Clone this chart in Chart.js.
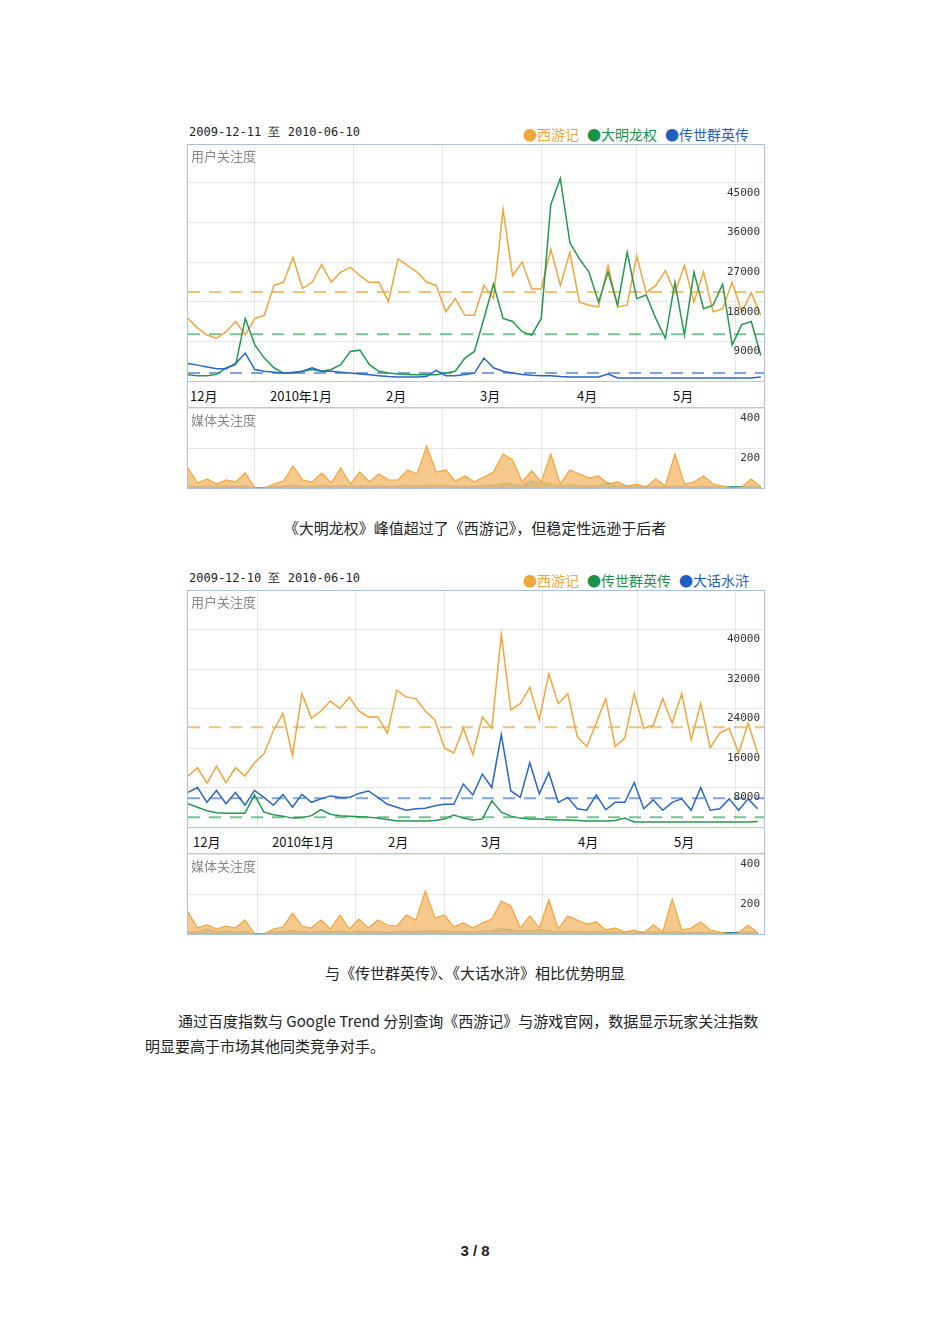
<!DOCTYPE html>
<html lang="zh">
<head>
<meta charset="UTF-8">
<title>百度指数对比</title>
<script src="https://cdn.jsdelivr.net/npm/chart.js"></script>
<style>
  body { margin: 0; width: 950px; height: 1344px; background: #fff; position: relative; font-family: "Noto Sans CJK SC", sans-serif; }
  .abs { position: absolute; }
  .box { position: absolute; border: 1px solid #a9c1de; box-sizing: border-box; }
  .strip { position: absolute; border-top: 1px solid #b7c8dd; border-bottom: 1px solid #b7c8dd; box-sizing: border-box; }
  .date { font-family: "DejaVu Sans Mono", monospace; font-size: 12px; color: #222; }
  .legend { font-size: 14px; white-space: nowrap; }
  .legend span { margin-left: 8px; }
  .panel { font-size: 13px; color: #888; }
  .month { font-size: 13px; color: #111; }
  .cap { font-size: 15px; color: #222; width: 950px; text-align: center; left: 0; }
  .para { font-size: 15px; color: #222; line-height: 25px; white-space: nowrap; }
  canvas { position: absolute; }
</style>
</head>
<body>
<!-- chart 1 -->
<div class="abs date" style="left:189px;top:124px">2009-12-11 至 2010-06-10</div>
<div class="abs legend" style="left:515px;top:124px"><span style="color:#f2a53a">●西游记</span><span style="color:#19924a">●大明龙权</span><span style="color:#1f5fc0">●传世群英传</span></div>
<div class="box" style="left:187px;top:144px;width:578px;height:345px"></div>
<div class="strip" style="left:187px;top:381px;width:578px;height:27px"></div>
<canvas id="u1" width="576" height="236" style="left:188px;top:145px"></canvas>
<canvas id="m1" width="576" height="80" style="left:188px;top:408px"></canvas>
<div class="abs panel" style="left:191px;top:146px">用户关注度</div>
<div class="abs panel" style="left:191px;top:410px">媒体关注度</div>
<div class="abs month" style="left:190px;top:386px">12月</div>
<div class="abs month" style="left:270px;top:386px">2010年1月</div>
<div class="abs month" style="left:386px;top:386px">2月</div>
<div class="abs month" style="left:480px;top:386px">3月</div>
<div class="abs month" style="left:577px;top:386px">4月</div>
<div class="abs month" style="left:673px;top:386px">5月</div>
<div class="abs cap" style="top:517px">《大明龙权》峰值超过了《西游记》，但稳定性远逊于后者</div>

<!-- chart 2 -->
<div class="abs date" style="left:189px;top:570px">2009-12-10 至 2010-06-10</div>
<div class="abs legend" style="left:515px;top:570px"><span style="color:#f2a53a">●西游记</span><span style="color:#19924a">●传世群英传</span><span style="color:#1f5fc0">●大话水浒</span></div>
<div class="box" style="left:187px;top:590px;width:578px;height:345px"></div>
<div class="strip" style="left:187px;top:827px;width:578px;height:27px"></div>
<canvas id="u2" width="576" height="236" style="left:188px;top:591px"></canvas>
<canvas id="m2" width="576" height="80" style="left:188px;top:854px"></canvas>
<div class="abs panel" style="left:191px;top:592px">用户关注度</div>
<div class="abs panel" style="left:191px;top:856px">媒体关注度</div>
<div class="abs month" style="left:193px;top:832px">12月</div>
<div class="abs month" style="left:272px;top:832px">2010年1月</div>
<div class="abs month" style="left:388px;top:832px">2月</div>
<div class="abs month" style="left:481px;top:832px">3月</div>
<div class="abs month" style="left:578px;top:832px">4月</div>
<div class="abs month" style="left:674px;top:832px">5月</div>
<div class="abs cap" style="top:962px">与《传世群英传》、《大话水浒》相比优势明显</div>

<div class="abs para" style="left:145px;top:1008px"><span style="padding-left:33px"></span>通过百度指数与 Google Trend 分别查询《西游记》与游戏官网，数据显示玩家关注指数<br>明显要高于市场其他同类竞争对手。</div>
<div class="abs" style="left:0;width:950px;text-align:center;top:1242px;font:bold 15px 'Liberation Sans',sans-serif;color:#222">3 / 8</div>

<script>
// sample days (every 3 days)
const days = [0,3,6,9,12,15,18,21,24,27,30,33,36,39,42,45,48,51,54,57,60,63,66,69,72,75,78,81,84,87,90,93,96,99,102,105,108,111,114,117,120,123,126,129,132,135,138,141,144,147,150,153,156,159,162,165,168,171,174,177,180];

// chart 1: 2009-12-11 ~ 2010-06-10
const monthDays1 = [21,52,80,111,141,172];
const xyj1 = [14200,12000,10400,9700,11200,13500,10400,14200,14900,21700,22400,28000,21000,22400,26400,22400,24700,25800,23900,22400,22400,18000,27700,26200,24700,22400,21700,15700,18700,14900,14900,21700,18700,38900,23900,27000,20900,20900,29900,21700,29200,17900,17200,16800,26200,16800,17200,28400,20000,21700,25000,20000,26200,17900,24700,15700,16400,22400,15700,20000,14900];
const dmlq1 = [1400,1200,1200,1500,3000,3700,14200,8200,5200,3000,1800,2000,2200,2600,2200,2600,3700,6700,7000,3700,2200,1800,1600,1500,1400,1400,1400,1800,2200,5200,6700,14200,22000,14200,13500,11200,10400,14200,40000,46000,31400,27700,24700,17900,24700,17200,29200,18700,19500,14200,9700,22400,10400,24700,16400,17200,22000,8200,12800,13500,5800];
const csqy1 = [4000,3600,3200,2800,2800,4000,6300,2600,2200,2000,1800,1800,2200,3000,2200,2200,2000,1800,1600,1400,1200,1000,900,900,900,1000,2400,1200,1200,1500,1800,5200,3000,2200,1800,1500,1300,1200,1200,1000,900,900,900,900,1600,700,700,700,700,700,700,700,700,700,700,700,700,700,700,700,900];
const avg1 = [20200, 10600, 1800];
const yTicks1 = [9000,18000,27000,36000,45000];
const xyjMedia1 = [100,25,45,20,40,30,75,0,0,20,35,110,40,30,75,25,100,20,80,30,70,40,40,90,70,210,80,90,35,60,30,55,80,170,140,30,85,30,170,20,90,70,50,60,20,30,10,20,5,45,10,170,20,30,60,20,10,0,5,45,5];
const dmlqMedia1 = [6,4,8,5,6,4,8,0,0,5,6,8,6,5,8,6,8,5,8,6,6,5,6,8,6,10,8,8,6,6,5,8,10,25,20,10,15,30,20,10,15,10,8,12,25,10,6,8,5,6,5,8,6,5,6,5,4,4,5,6,4];
const csqyMedia1 = [8,6,10,8,10,8,12,0,0,8,10,15,10,8,12,10,12,8,12,10,10,8,10,12,10,14,12,12,10,10,8,12,14,22,20,12,35,20,18,10,14,12,10,12,10,10,8,10,6,8,6,10,8,6,8,6,5,5,6,8,5];

// chart 2: 2009-12-10 ~ 2010-06-10
const monthDays2 = [22,53,81,112,142,173];
const xyj2 = [10300,12000,8900,12300,9000,12000,10300,13000,14800,19500,23000,14500,27000,22000,23500,25500,24000,26300,23500,22300,22300,19000,27700,26300,26000,23500,21700,16000,15000,20000,14700,22300,20000,39000,23700,25000,28300,21700,31000,25000,27000,18300,16300,21000,26000,16300,18000,27000,20000,20600,26000,21000,27000,17700,25000,16000,19000,20000,15000,21000,15000];
const csqy2 = [4700,4000,3300,2900,2800,2800,2800,6500,3000,2500,2200,1800,1900,2300,3500,2600,2300,2200,2100,2000,1800,1500,1200,1200,1200,1200,1300,1600,2400,1800,1400,1600,5300,3000,2200,1800,1600,1600,1500,1400,1400,1300,1200,1200,1200,1300,1800,1000,1000,1000,1000,1000,1000,1000,1000,1000,1000,1000,1000,1000,1100];
const dhsh2 = [7000,8000,5000,7400,4700,7000,4400,7400,6000,4400,6600,4000,6600,5000,5700,6300,6000,6000,6800,7300,6000,4600,4000,3400,3700,3800,4300,4600,4600,8700,6500,10700,8000,18700,7300,6000,13000,6700,11000,5000,6000,3700,3400,6500,3500,5000,5000,9000,3700,5500,3400,5000,5700,3400,8000,3400,3700,5700,3400,5700,3700];
const avg2 = [20200, 2000, 5800];
const yTicks2 = [8000,16000,24000,32000,40000];
const xyjMedia2 = [110,30,45,25,40,30,70,0,0,25,35,105,40,30,70,25,95,25,75,30,70,45,40,95,70,215,80,95,35,55,30,55,75,165,140,30,90,30,170,25,90,70,50,60,20,30,10,20,5,45,10,175,20,30,60,20,10,0,5,45,5];
const csqyMedia2 = [6,4,8,5,6,4,8,0,0,5,6,8,6,5,8,6,8,5,8,6,6,5,6,8,6,10,8,8,6,6,5,8,10,20,15,10,12,25,15,10,12,10,8,10,8,8,6,8,5,6,5,8,6,5,6,5,4,4,5,6,4];
const dhshMedia2 = [12,10,25,10,14,10,14,0,0,12,12,16,12,10,14,12,14,10,14,12,12,10,12,14,12,16,14,14,12,12,10,14,16,28,22,14,18,16,14,10,14,12,10,12,10,10,8,10,8,10,8,12,10,8,10,8,6,6,8,10,6];

const ORANGE = '#f2a53a', GREEN = '#22994f', BLUE = '#2a66c2';
const AVG_COLORS = ['rgba(242,165,58,0.7)', 'rgba(34,153,79,0.6)', 'rgba(42,102,194,0.6)'];
const FILLS = ['rgba(246,190,120,0.85)', 'rgba(70,170,110,0.85)', 'rgba(80,125,200,0.85)'];

function pts(vals, xs) { return vals.map((v, i) => ({ x: xs[i], y: v })); }
function flat(v, maxDay) { return [{ x: 0, y: v }, { x: maxDay, y: v }]; }

// tick labels drawn inside plot, right-aligned, just below each gridline
const innerLabels = {
  id: 'innerLabels',
  afterDraw(chart) {
    const { ctx, chartArea, scales } = chart;
    ctx.save();
    ctx.font = '11px "DejaVu Sans Mono"';
    ctx.fillStyle = '#333';
    ctx.textAlign = 'right';
    ctx.textBaseline = 'middle';
    scales.y.ticks.forEach(t => ctx.fillText(String(t.value), chartArea.right - 4, scales.y.getPixelForValue(t.value) + 10));
    ctx.restore();
  }
};

function xScale(maxDay, monthDays) {
  return {
    type: 'linear', min: 0, max: maxDay,
    afterBuildTicks: s => { s.ticks = monthDays.map(v => ({ value: v })); },
    afterFit: s => { s.height = 0; },
    ticks: { display: false },
    grid: { color: '#e6e6e6', drawTicks: false },
    border: { display: false }
  };
}
function yScale(max, ticks) {
  return {
    position: 'right', min: 0, max: max,
    afterBuildTicks: s => { s.ticks = ticks.map(v => ({ value: v })); },
    afterFit: s => { s.width = 0; },
    ticks: { display: false },
    grid: { color: '#e6e6e6', drawTicks: false },
    border: { display: false }
  };
}
const base = { responsive: false, animation: false, layout: { padding: 0 }, plugins: { legend: { display: false }, tooltip: { enabled: false } }, elements: { point: { radius: 0 }, line: { tension: 0 } } };

function userChart(id, maxDay, monthDays, series, avgs, yMax, ticks) {
  const colors = [ORANGE, GREEN, BLUE];
  const ds = [];
  series.forEach((s, i) => ds.push({ data: flat(avgs[i], maxDay), borderColor: AVG_COLORS[i], borderWidth: 2, borderDash: [12, 9], order: 5 }));
  series.forEach((s, i) => ds.push({ data: pts(s, days), borderColor: colors[i], borderWidth: 1.5, order: series.length - i }));
  new Chart(document.getElementById(id), { type: 'line', data: { datasets: ds }, plugins: [innerLabels],
    options: Object.assign({}, base, { scales: { x: xScale(maxDay, monthDays), y: yScale(yMax, ticks) } }) });
}
function mediaChart(id, maxDay, monthDays, series) {
  const colors = [ORANGE, GREEN, BLUE];
  const ds = series.map((s, i) => ({ data: pts(s, days), borderColor: colors[i], backgroundColor: FILLS[i], fill: 'origin', borderWidth: 1.2 }));
  new Chart(document.getElementById(id), { type: 'line', data: { datasets: ds }, plugins: [innerLabels],
    options: Object.assign({}, base, { scales: { x: xScale(maxDay, monthDays), y: yScale(400, [200, 400]) } }) });
}

userChart('u1', 181, monthDays1, [xyj1, dmlq1, csqy1], avg1, 53550, yTicks1);
mediaChart('m1', 181, monthDays1, [xyjMedia1, dmlqMedia1, csqyMedia1]);
userChart('u2', 182, monthDays2, [xyj2, csqy2, dhsh2], avg2, 47800, yTicks2);
mediaChart('m2', 182, monthDays2, [xyjMedia2, csqyMedia2, dhshMedia2]);
</script>
</body>
</html>
